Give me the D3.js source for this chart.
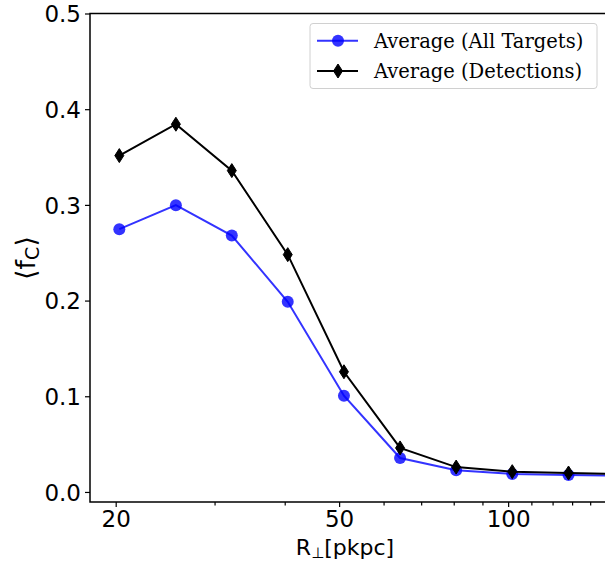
<!DOCTYPE html>
<html lang="en">
<head>
<meta charset="utf-8">
<title>fC vs R</title>
<script src="https://cdn.jsdelivr.net/npm/d3@7"></script>
<style>
  body { margin: 0; background: #fff; }
  .tick text { font-family: "DejaVu Sans", sans-serif; }
</style>
</head>
<body>
<script>
// bin centres (pkpc) and averaged covering fractions
var radius = [20.3, 25.6, 32.2, 40.5, 51.0, 64.2, 80.8, 101.7, 128.1, 161.2];
var allTargets = [0.2746, 0.2997, 0.268, 0.1987, 0.1006, 0.0355, 0.0226, 0.0188, 0.0178, 0.0170];
var detections = [0.3515, 0.3843, 0.3358, 0.248, 0.1256, 0.046, 0.026, 0.0212, 0.0198, 0.0185];
var xMajor = [20, 50, 100];
var xMinor = [30, 40, 60, 70, 80, 90, 110, 120, 130, 140, 150];
var yTicks = [0, 0.1, 0.2, 0.3, 0.4, 0.5];
var legendLabels = ["Average (All Targets)", "Average (Detections)"];

var W = 605, H = 561;
var mLeft = 90, mTop = 13.5, mBottom = 502, mRight = 607;

var svg = d3.select("body").append("svg")
    .attr("width", W).attr("height", H);

var x = d3.scaleLog().domain([18, 150]).range([mLeft, mRight]);
var y = d3.scaleLinear().domain([-0.0105, 0.5]).range([mBottom, mTop]);

svg.append("clipPath").attr("id", "clip")
  .append("rect").attr("x", mLeft).attr("y", mTop)
  .attr("width", mRight - mLeft).attr("height", mBottom - mTop);

var plot = svg.append("g").attr("clip-path", "url(#clip)");

var line = d3.line()
    .x(function(d, i) { return x(radius[i]); })
    .y(function(d) { return y(d); });

var blue = "rgba(0,0,255,0.8)";

plot.append("path").datum(allTargets)
    .attr("d", line).attr("fill", "none")
    .attr("stroke", blue).attr("stroke-width", 2);

plot.selectAll("circle.all").data(allTargets).enter()
  .append("circle").attr("class", "all")
    .attr("cx", function(d, i) { return x(radius[i]); })
    .attr("cy", function(d) { return y(d); })
    .attr("r", 6).attr("fill", blue);

plot.append("path").datum(detections)
    .attr("d", line).attr("fill", "none")
    .attr("stroke", "black").attr("stroke-width", 2);

var diamond = "M0,-7L4.5,0L0,7L-4.5,0Z";
plot.selectAll("path.det").data(detections).enter()
  .append("path").attr("class", "det")
    .attr("d", diamond)
    .attr("transform", function(d, i) { return "translate(" + x(radius[i]) + "," + y(d) + ")"; })
    .attr("fill", "black").attr("stroke", "black").attr("stroke-width", 1);

// axes
var xAxis = svg.append("g").attr("transform", "translate(0," + mBottom + ")")
  .call(d3.axisBottom(x).tickValues(xMajor).tickFormat(d3.format("d")).tickSize(5).tickPadding(4));
xAxis.select(".domain").remove();
xAxis.selectAll("text").attr("font-size", 23).attr("fill", "#000");

var xMin = svg.append("g").attr("transform", "translate(0," + mBottom + ")")
  .call(d3.axisBottom(x).tickValues(xMinor).tickFormat("").tickSize(3.5));
xMin.select(".domain").remove();

var yAxis = svg.append("g").attr("transform", "translate(" + mLeft + ",0)")
  .call(d3.axisLeft(y).tickValues(yTicks).tickFormat(d3.format(".1f")).tickSize(5).tickPadding(4));
yAxis.select(".domain").remove();
yAxis.selectAll("text").attr("font-size", 23).attr("fill", "#000").attr("dy", "0.36em");

svg.selectAll(".tick line").attr("stroke", "#000").attr("stroke-width", 1.2);

// spines
svg.append("path")
    .attr("d", "M" + W + "," + mTop + "H" + mLeft + "V" + mBottom + "H" + W)
    .attr("fill", "none").attr("stroke", "#000").attr("stroke-width", 1.5);

// axis labels
var xl = svg.append("text")
    .attr("x", 345).attr("y", 555)
    .attr("text-anchor", "middle")
    .attr("font-family", "DejaVu Sans, sans-serif").attr("font-size", 22);
xl.append("tspan").text("R");
xl.append("tspan").attr("font-size", 15).attr("dy", 3).text("\u22A5");
xl.append("tspan").attr("dy", -3).text("[pkpc]");

var yl = svg.append("text")
    .attr("transform", "translate(35,258) rotate(-90)")
    .attr("text-anchor", "middle")
    .attr("font-family", "DejaVu Sans, sans-serif").attr("font-size", 27);
yl.append("tspan").text("\u27E8f");
yl.append("tspan").attr("font-size", 19).attr("dy", 4).text("C");
yl.append("tspan").attr("dy", -4).text("\u27E9");

// legend
var lg = svg.append("g");
lg.append("rect")
    .attr("x", 310).attr("y", 23.5).attr("width", 287).attr("height", 65)
    .attr("rx", 3).attr("fill", "rgba(255,255,255,0.8)")
    .attr("stroke", "#d0d0d0").attr("stroke-width", 1);

var rows = lg.selectAll("g.row").data(legendLabels).enter()
  .append("g").attr("class", "row")
    .attr("transform", function(d, i) { return "translate(0," + (40.7 + i * 30.3) + ")"; });

rows.append("line")
    .attr("x1", 317).attr("x2", 358)
    .attr("stroke", function(d, i) { return i === 0 ? blue : "black"; })
    .attr("stroke-width", 2);

rows.filter(function(d, i) { return i === 0; })
  .append("circle").attr("cx", 338).attr("r", 6).attr("fill", blue);
rows.filter(function(d, i) { return i === 1; })
  .append("path").attr("d", diamond).attr("transform", "translate(338,0)")
  .attr("fill", "black").attr("stroke", "black").attr("stroke-width", 1);

rows.append("text")
    .attr("x", 374).attr("dy", "0.36em")
    .attr("font-family", "DejaVu Serif, serif").attr("font-size", 19.5)
    .text(function(d) { return d; });
</script>
</body>
</html>
